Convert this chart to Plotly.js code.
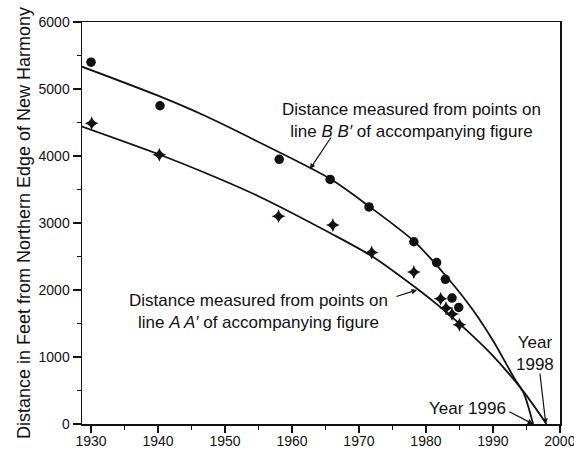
<!DOCTYPE html>
<html>
<head>
<meta charset="utf-8">
<script src="https://cdn.plot.ly/plotly-3.0.1.min.js"></script>
<style>html,body{margin:0;padding:0;background:#fff;}#chart{width:574px;height:450px;}</style>
</head>
<body>
<div id="chart"></div>
<script>
// Observed points, line B B'
const yearsBB = [1930, 1940.3, 1958.1, 1965.7, 1971.5, 1978.2, 1981.6, 1982.9, 1983.9, 1984.9];
const distBB  = [5400, 4750, 3950, 3650, 3240, 2720, 2410, 2160, 1880, 1740];
// Observed points, line A A'
const yearsAA = [1930.1, 1940.2, 1958, 1966.1, 1971.9, 1978.2, 1982.2, 1983, 1983.9, 1985];
const distAA  = [4490, 4020, 3100, 2970, 2560, 2270, 1870, 1730, 1640, 1480];
// Fitted curves
const curveYearsBB = [1928.65, 1940, 1947, 1955, 1965.7, 1971.5, 1978.2, 1982.9, 1987.1, 1990.1, 1993.1, 1994.6, 1996];
const curveDistBB  = [5333, 4900, 4600, 4210, 3660, 3250, 2730, 2220, 1690, 1230, 700, 460, 0];
const curveYearsAA = [1928.65, 1940, 1947, 1955, 1965.7, 1972, 1978.4, 1982.2, 1985.2, 1989.7, 1994.6, 1998];
const curveDistAA  = [4440, 4030, 3750, 3400, 2850, 2500, 2040, 1740, 1480, 1050, 480, 0];
// Axis ticks
const xTicks = [1930, 1940, 1950, 1960, 1970, 1980, 1990, 2000];
const yTicks = [0, 1000, 2000, 3000, 4000, 5000, 6000];

const FONT = 'Liberation Sans, Arial, Helvetica, sans-serif';

const traces = [
  {x: curveYearsBB, y: curveDistBB, mode: 'lines', line: {color: '#111', width: 1.8, shape: 'spline', smoothing: 0.8}, hoverinfo: 'skip'},
  {x: curveYearsAA, y: curveDistAA, mode: 'lines', line: {color: '#111', width: 1.8, shape: 'spline', smoothing: 0.8}, hoverinfo: 'skip'},
  {x: yearsBB, y: distBB, mode: 'markers', marker: {symbol: 'circle', size: 9.5, color: '#111'}},
  {x: yearsAA, y: distAA, mode: 'markers', marker: {symbol: 'star-diamond', size: 10, color: '#111'}}
];

const arrowStyle = {showarrow: true, arrowhead: 2, arrowsize: 0.9, arrowwidth: 1.2, arrowcolor: '#111', axref: 'x', ayref: 'y', text: ''};

const layout = {
  width: 574, height: 450,
  margin: {l: 82, r: 14, t: 22, b: 26},
  paper_bgcolor: '#fff', plot_bgcolor: '#fff',
  showlegend: false,
  font: {family: FONT, color: '#111', size: 14},
  xaxis: {
    range: [1928.65, 2000.02], tickvals: xTicks, ticktext: xTicks.map(String),
    ticks: 'outside', ticklen: 7, tickwidth: 1.3, tickcolor: '#111',
    minor: {dtick: 5, tick0: 1930, ticks: 'outside', ticklen: 4, tickwidth: 1.2, tickcolor: '#111'},
    showline: true, linecolor: '#111', linewidth: 1.5, mirror: true,
    showgrid: false, zeroline: false, tickfont: {size: 14, family: FONT},
    ticklabelstandoff: -3, ticklabeloverflow: 'allow'
  },
  yaxis: {
    range: [0, 6000], tickvals: yTicks, ticktext: yTicks.map(String),
    ticks: 'outside', ticklen: 8, tickwidth: 1.3, tickcolor: '#111',
    minor: {dtick: 500, tick0: 0, ticks: 'outside', ticklen: 4, tickwidth: 1.2, tickcolor: '#111'},
    showline: true, linecolor: '#111', linewidth: 1.5, mirror: true,
    showgrid: false, zeroline: false, tickfont: {size: 14, family: FONT},
    ticklabeloverflow: 'allow',
    title: {text: 'Distance in Feet from Northern Edge of New Harmony', font: {size: 18, family: FONT}, standoff: 3}
  },
  annotations: [
    {x: 1977.8, y: 4530, xref: 'x', yref: 'y', showarrow: false, xanchor: 'center', yanchor: 'middle',
     text: 'Distance measured from points on<br>line <i>B B′</i> of accompanying figure', font: {size: 17, family: FONT}},
    {x: 1955.07, y: 1679, xref: 'x', yref: 'y', showarrow: false, xanchor: 'center', yanchor: 'middle',
     text: 'Distance measured from points on<br>line <i>A A′</i> of accompanying figure', font: {size: 17, family: FONT}},
    {x: 1996.27, y: 1045, xref: 'x', yref: 'y', showarrow: false, xanchor: 'center', yanchor: 'middle',
     text: 'Year<br>1998', font: {size: 17, family: FONT}},
    {x: 1986.19, y: 224, xref: 'x', yref: 'y', showarrow: false, xanchor: 'center', yanchor: 'middle',
     text: 'Year 1996', font: {size: 17, family: FONT}},
    Object.assign({x: 1962.68, y: 3806, ax: 1965.97, ay: 4298}, arrowStyle),
    Object.assign({x: 1978.66, y: 2000, ax: 1975.37, ay: 1895}, arrowStyle),
    Object.assign({x: 1997.9, y: 0, ax: 1997.0, ay: 776}, arrowStyle),
    Object.assign({x: 1996.0, y: 0, ax: 1992.24, ay: 194}, arrowStyle)
  ]
};

Plotly.newPlot('chart', traces, layout, {staticPlot: true, displayModeBar: false});
</script>
</body>
</html>
